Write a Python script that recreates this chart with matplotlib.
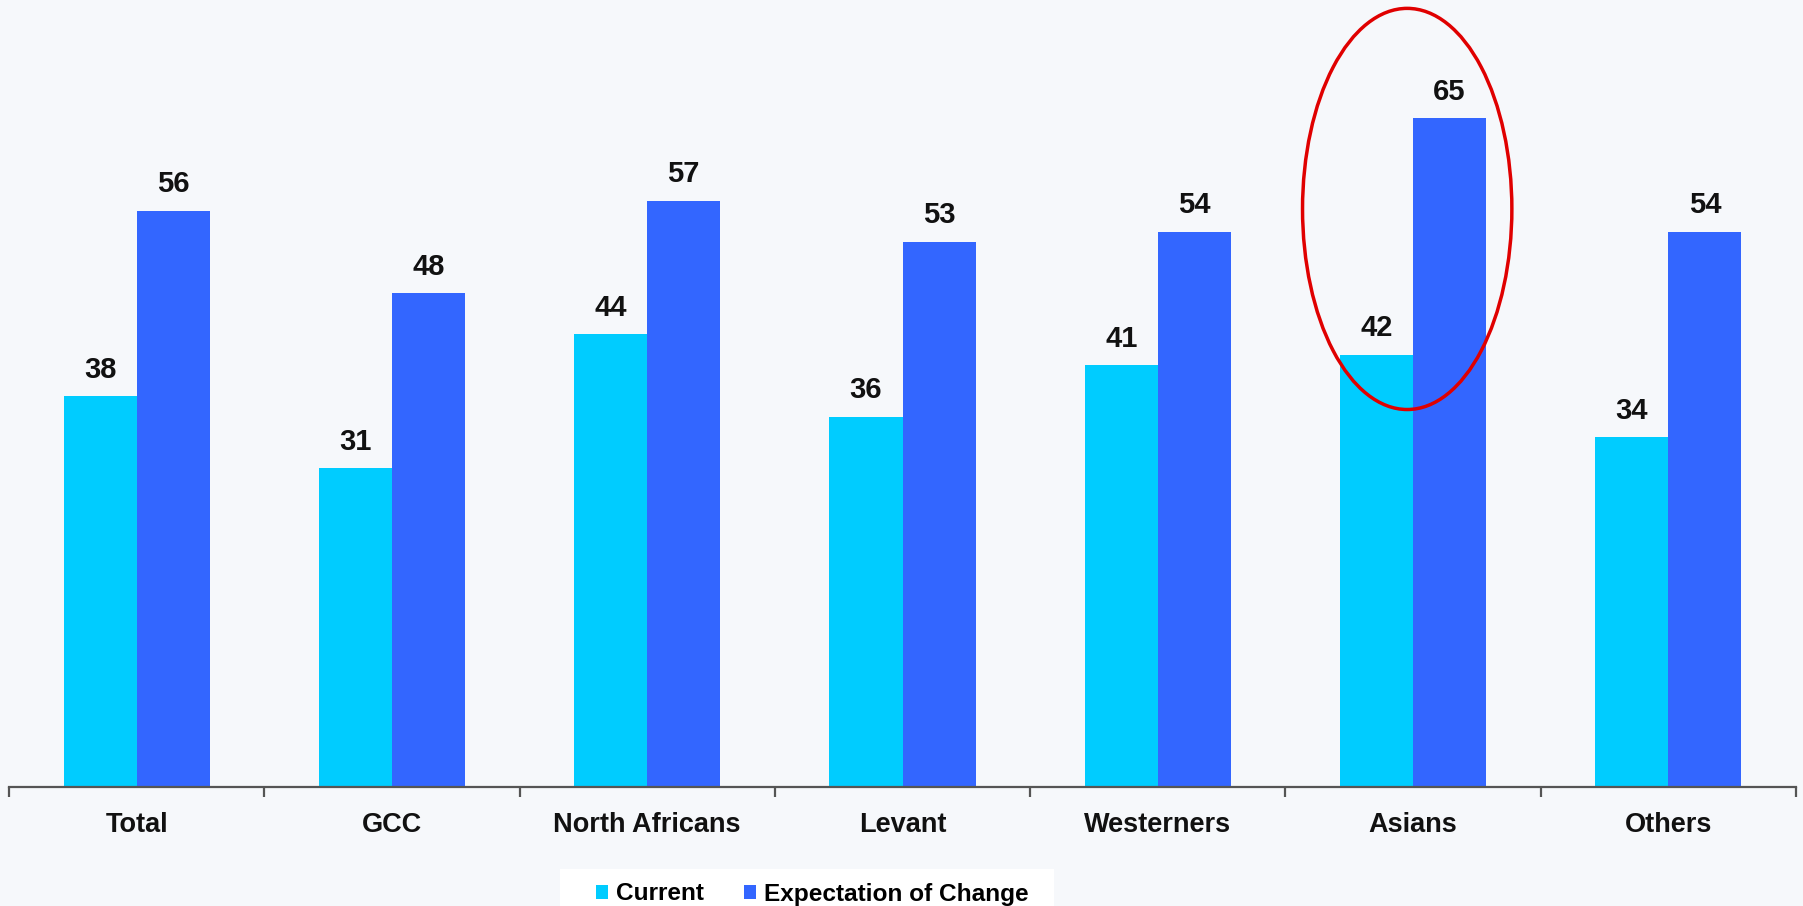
import matplotlib.pyplot as plt
from matplotlib.patches import Ellipse, Rectangle
import numpy as np

plt.rcParams['font.family'] = ['Liberation Sans', 'DejaVu Sans']

# data
groups = ['Total', 'GCC', 'North Africans', 'Levant', 'Westerners', 'Asians', 'Others']
current = [38, 31, 44, 36, 41, 42, 34]
expectation = [56, 48, 57, 53, 54, 65, 54]
series_names = ['Current', 'Expectation of Change']

c_cur = '#00ccff'
c_exp = '#3366ff'
bg = '#f6f8fb'

fig = plt.figure(figsize=(18.03, 9.06), dpi=100, facecolor=bg)
# axes placed in pixels of the 1803x906 picture
ax = fig.add_axes([9 / 1803, 119 / 906, 1787 / 1803, 720 / 906])
ax.set_facecolor('none')

x = np.arange(len(groups))
w = 0.286
b1 = ax.bar(x - w / 2, current, w, color=c_cur, label=series_names[0])
b2 = ax.bar(x + w / 2, expectation, w, color=c_exp, label=series_names[1])

for bars in (b1, b2):
    for r in bars:
        ax.annotate('%d' % r.get_height(), (r.get_x() + r.get_width() / 2, r.get_height()),
                    xytext=(0, 9), textcoords='offset points', ha='center', va='bottom',
                    fontsize=21, fontweight='bold', color='#111111')

ax.set_xlim(-0.5, len(groups) - 0.5)
ax.set_ylim(0, 70)

for s in ['top', 'right', 'left']:
    ax.spines[s].set_visible(False)
ax.spines['bottom'].set_color('#555555')
ax.spines['bottom'].set_linewidth(1.6)
ax.set_yticks([])

ax.set_xticks(x)
ax.set_xticklabels(groups, fontsize=19.5, fontweight='bold', color='#111111')
ax.tick_params(axis='x', which='major', length=0, pad=18)
ax.set_xticks(np.arange(-0.5, len(groups), 1), minor=True)
ax.tick_params(axis='x', which='minor', length=7, width=1.6, color='#555555', direction='out')

# red highlight around Asians
ax.add_patch(Ellipse((4.977, 56.2), 0.82, 39, fill=False, edgecolor='#e00000', lw=2.5,
                     clip_on=False, zorder=5))

# legend box, running off the bottom edge
fig.patches.append(Rectangle((560 / 1803, -0.02), 494 / 1803, (906 - 869) / 906 + 0.02,
                             transform=fig.transFigure, facecolor='white', edgecolor='none'))
leg = fig.legend(handles=[b1, b2], loc='center left', bbox_to_anchor=(584 / 1803, 12 / 906),
                 ncol=2, frameon=False, prop={'size': 17.6, 'weight': 'bold'},
                 handlelength=0.5, handleheight=0.5, handletextpad=0.3, columnspacing=1.65,
                 borderpad=0)

fig.savefig('out.png', dpi=100, facecolor=bg)
